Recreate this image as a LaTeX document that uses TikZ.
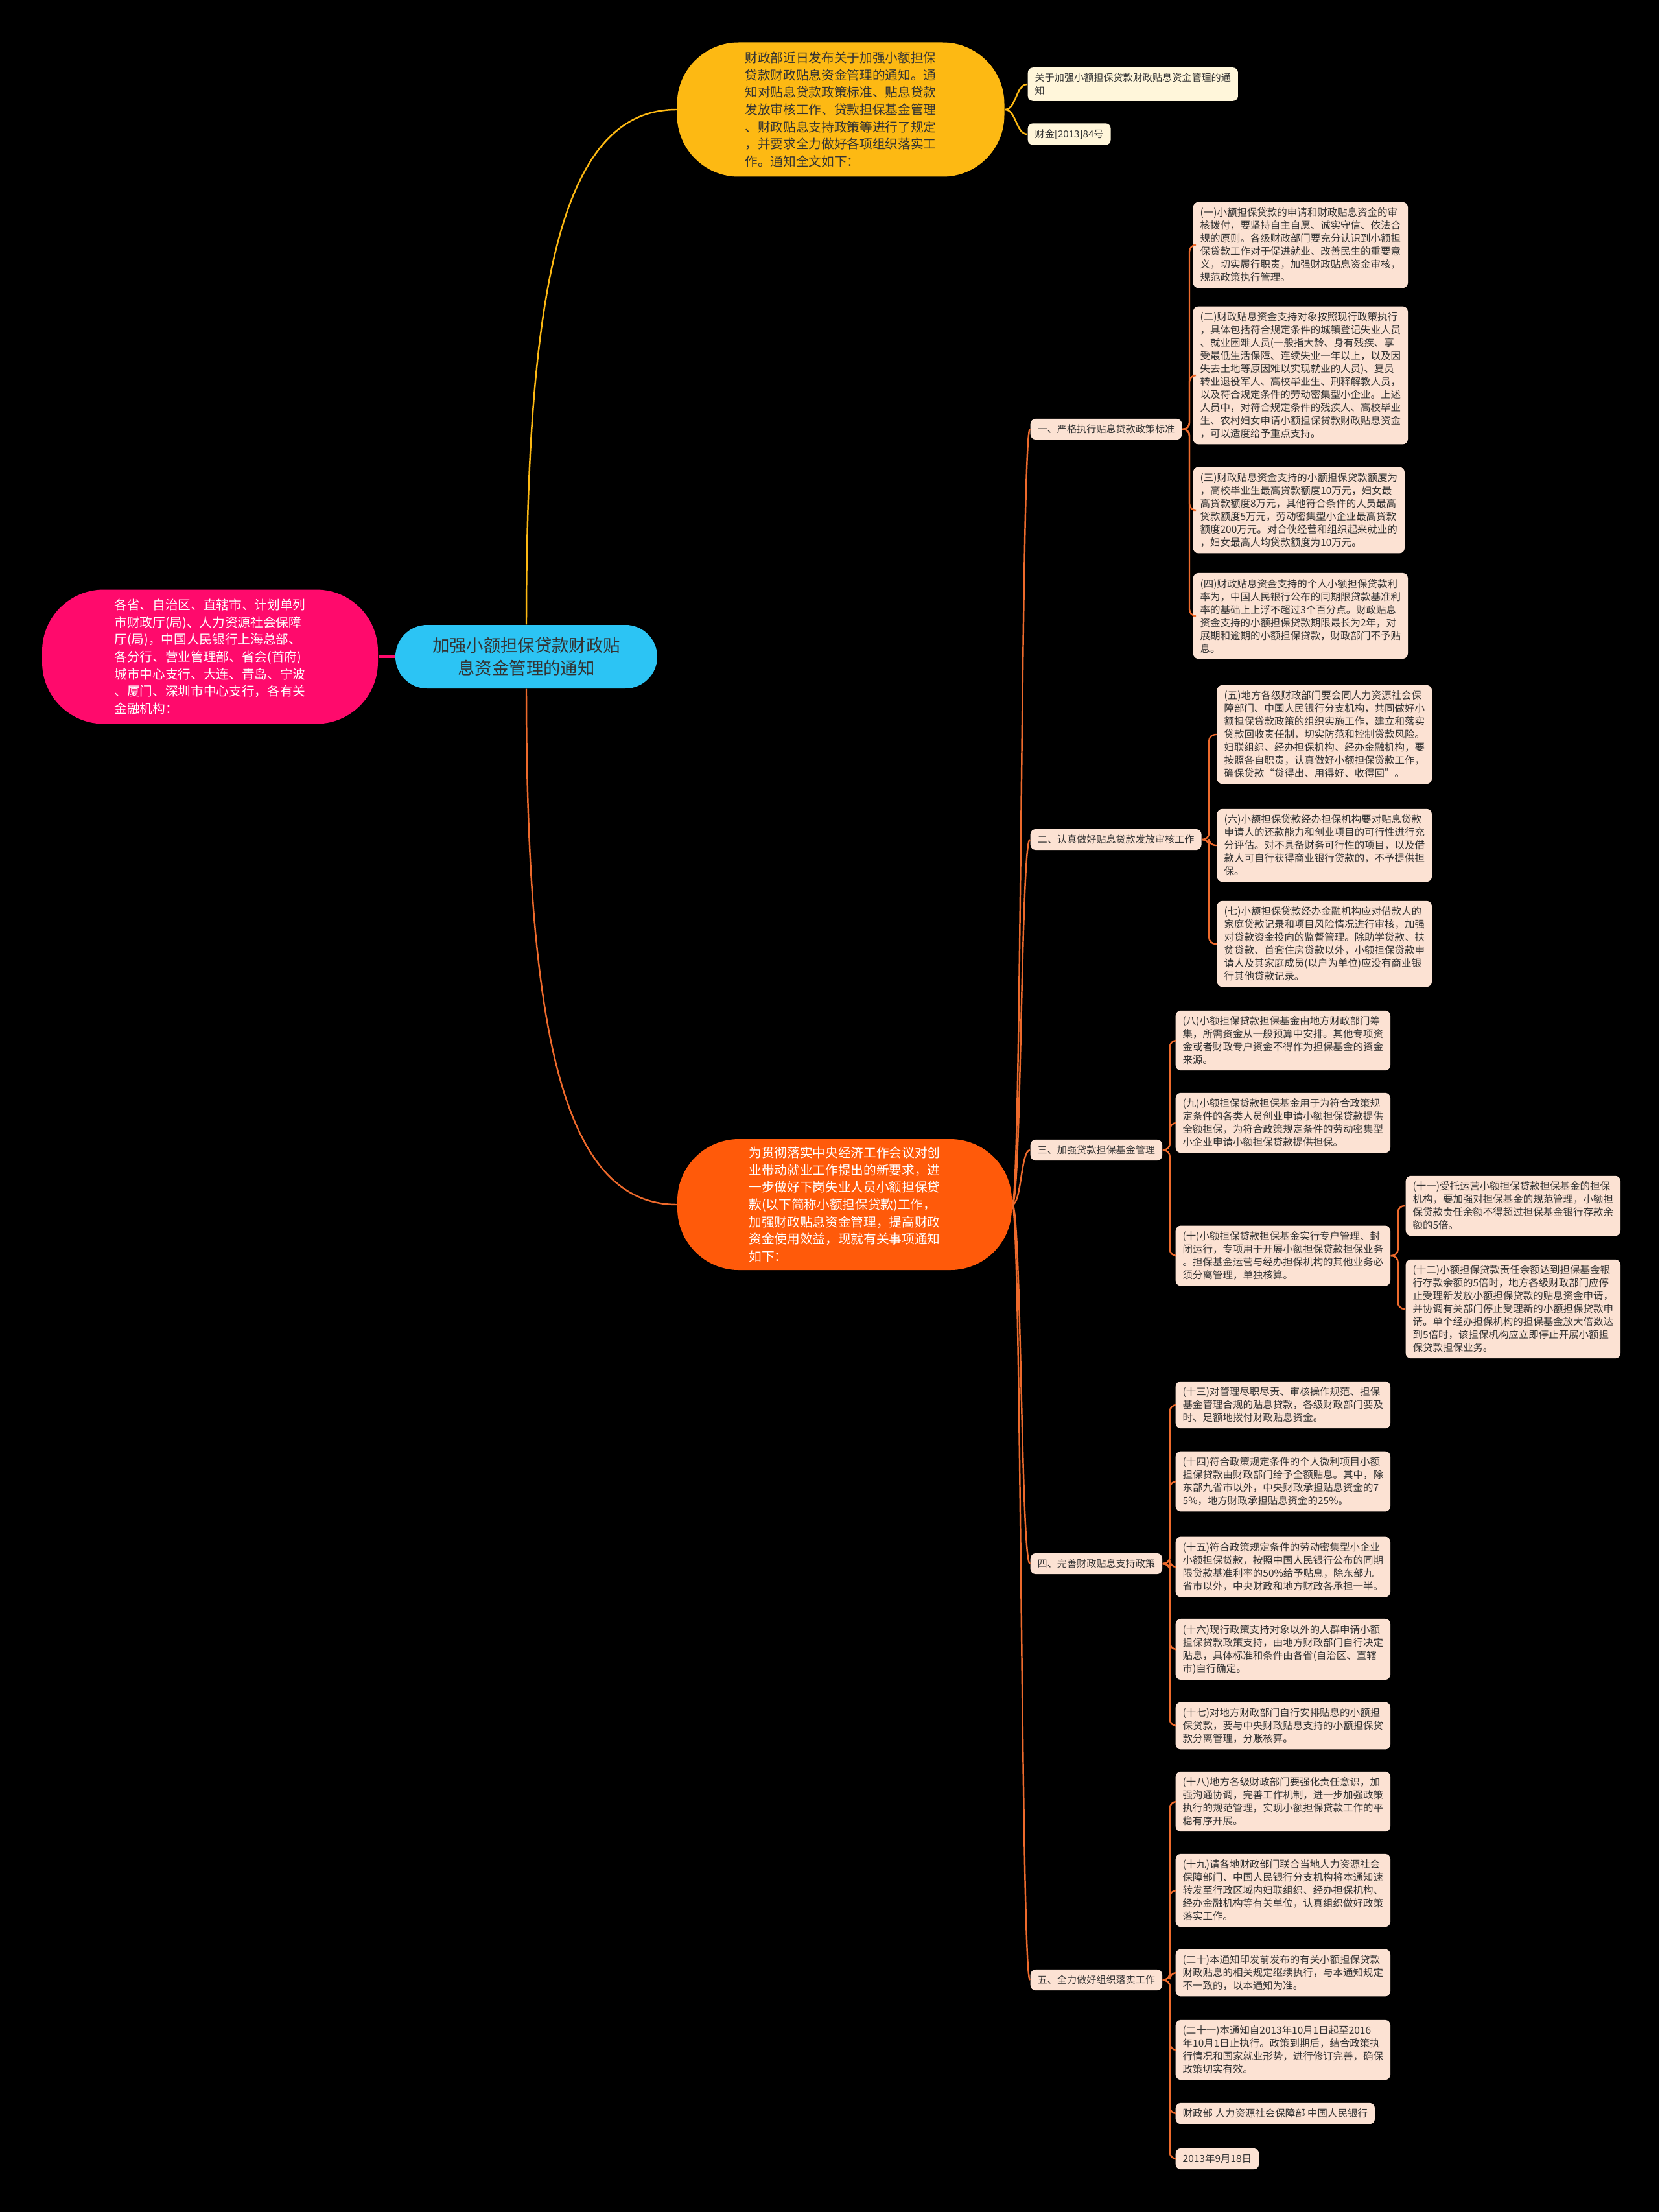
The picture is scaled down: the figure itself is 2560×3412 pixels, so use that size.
\documentclass[tikz,border=0pt]{standalone}
\usepackage{fontspec}
\setmainfont{Noto Sans CJK SC}
\usetikzlibrary{calc}
\definecolor{rosered}{HTML}{FF0A6C}
\definecolor{skyblue}{HTML}{2CC4F4}
\definecolor{goldyel}{HTML}{FDB913}
\definecolor{flameorg}{HTML}{FF5A0A}
\definecolor{peach}{HTML}{FCE2D3}
\definecolor{cream}{HTML}{FFF6DA}
\definecolor{linkorg}{HTML}{EE6A2C}
\definecolor{inkgray}{HTML}{333333}

\begin{document}
\begin{tikzpicture}[x=0.1mm,y=-0.1mm,
  big/.style={rounded corners=9.5mm, align=left, inner sep=0pt,
    font=\fontsize{5.6pt}{7.6pt}\selectfont},
  leaf/.style={fill=peach, text=inkgray, rounded corners=0.8mm, align=left, anchor=west,
    inner xsep=1.1mm, inner ysep=0.9mm, font=\fontsize{4.4pt}{5.69pt}\selectfont},
  sect/.style={leaf, font=\fontsize{4.3pt}{5.4pt}\selectfont},
  note/.style={leaf, fill=cream, font=\fontsize{4.3pt}{5.6pt}\selectfont},
  link/.style={linkorg, line width=0.7pt, rounded corners=1mm},
]
  \useasboundingbox (0,0) rectangle (2560,3412);
  \fill[black] (0,0) rectangle (2560,3412);

  % main nodes
  \node[big, fill=rosered, text=white, minimum width=51.8mm, minimum height=20.7mm] (rose) at (324,1013)
    {各省、自治区、直辖市、计划单列\\市财政厅(局)、人力资源社会保障\\厅(局)，中国人民银行上海总部、\\各分行、营业管理部、省会(首府)\\城市中心支行、大连、青岛、宁波\\、厦门、深圳市中心支行，各有关\\金融机构：};
  \node[fill=skyblue, text=inkgray, rounded corners=4.9mm, align=center, inner sep=0pt,
    minimum width=40.4mm, minimum height=9.8mm, font=\fontsize{7.5pt}{10pt}\selectfont] (ctr) at (812,1013)
    {加强小额担保贷款财政贴\\息资金管理的通知};
  \node[big, fill=goldyel, text=inkgray, minimum width=50.5mm, minimum height=20.7mm] (yel) at (1297,169)
    {财政部近日发布关于加强小额担保\\贷款财政贴息资金管理的通知。通\\知对贴息贷款政策标准、贴息贷款\\发放审核工作、贷款担保基金管理\\、财政贴息支持政策等进行了规定\\，并要求全力做好各项组织落实工\\作。通知全文如下：};
  \node[big, fill=flameorg, text=white, minimum width=51.6mm, minimum height=20.2mm] (org) at (1303,1858)
    {为贯彻落实中央经济工作会议对创\\业带动就业工作提出的新要求，进\\一步做好下岗失业人员小额担保贷\\款(以下简称小额担保贷款)工作，\\加强财政贴息资金管理，提高财政\\资金使用效益，现就有关事项通知\\如下：};

  % notes of the yellow node
  \node[note] (c1) at (1585,130) {关于加强小额担保贷款财政贴息资金管理的通\\知};
  \node[note] (c2) at (1585,207) {财金[2013]84号};

  % sections
  \node[sect] (s1) at (1589,662) {一、严格执行贴息贷款政策标准};
  \node[sect] (s2) at (1589,1295) {二、认真做好贴息贷款发放审核工作};
  \node[sect] (s3) at (1589,1774) {三、加强贷款担保基金管理};
  \node[sect] (s4) at (1589,2412) {四、完善财政贴息支持政策};
  \node[sect] (s5) at (1589,3054) {五、全力做好组织落实工作};

  % section one
  \node[leaf] (l1) at (1840,378) {(一)小额担保贷款的申请和财政贴息资金的审\\核拨付，要坚持自主自愿、诚实守信、依法合\\规的原则。各级财政部门要充分认识到小额担\\保贷款工作对于促进就业、改善民生的重要意\\义，切实履行职责，加强财政贴息资金审核，\\规范政策执行管理。};
  \node[leaf] (l2) at (1840,579) {(二)财政贴息资金支持对象按照现行政策执行\\，具体包括符合规定条件的城镇登记失业人员\\、就业困难人员(一般指大龄、身有残疾、享\\受最低生活保障、连续失业一年以上，以及因\\失去土地等原因难以实现就业的人员)、复员\\转业退役军人、高校毕业生、刑释解教人员，\\以及符合规定条件的劳动密集型小企业。上述\\人员中，对符合规定条件的残疾人、高校毕业\\生、农村妇女申请小额担保贷款财政贴息资金\\，可以适度给予重点支持。};
  \node[leaf] (l3) at (1840,787) {(三)财政贴息资金支持的小额担保贷款额度为\\，高校毕业生最高贷款额度10万元，妇女最\\高贷款额度8万元，其他符合条件的人员最高\\贷款额度5万元，劳动密集型小企业最高贷款\\额度200万元。对合伙经营和组织起来就业的\\，妇女最高人均贷款额度为10万元。};
  \node[leaf] (l4) at (1840,950) {(四)财政贴息资金支持的个人小额担保贷款利\\率为，中国人民银行公布的同期限贷款基准利\\率的基础上上浮不超过3个百分点。财政贴息\\资金支持的小额担保贷款期限最长为2年，对\\展期和逾期的小额担保贷款，财政部门不予贴\\息。};

  % section two
  \node[leaf] (l5) at (1877,1133) {(五)地方各级财政部门要会同人力资源社会保\\障部门、中国人民银行分支机构，共同做好小\\额担保贷款政策的组织实施工作，建立和落实\\贷款回收责任制，切实防范和控制贷款风险。\\妇联组织、经办担保机构、经办金融机构，要\\按照各自职责，认真做好小额担保贷款工作，\\确保贷款“贷得出、用得好、收得回”。};
  \node[leaf] (l6) at (1877,1304) {(六)小额担保贷款经办担保机构要对贴息贷款\\申请人的还款能力和创业项目的可行性进行充\\分评估。对不具备财务可行性的项目，以及借\\款人可自行获得商业银行贷款的，不予提供担\\保。};
  \node[leaf] (l7) at (1877,1456) {(七)小额担保贷款经办金融机构应对借款人的\\家庭贷款记录和项目风险情况进行审核，加强\\对贷款资金投向的监督管理。除助学贷款、扶\\贫贷款、首套住房贷款以外，小额担保贷款申\\请人及其家庭成员(以户为单位)应没有商业银\\行其他贷款记录。};

  % section three
  \node[leaf] (l8) at (1813,1605) {(八)小额担保贷款担保基金由地方财政部门筹\\集，所需资金从一般预算中安排。其他专项资\\金或者财政专户资金不得作为担保基金的资金\\来源。};
  \node[leaf] (l9) at (1813,1732) {(九)小额担保贷款担保基金用于为符合政策规\\定条件的各类人员创业申请小额担保贷款提供\\全额担保，为符合政策规定条件的劳动密集型\\小企业申请小额担保贷款提供担保。};
  \node[leaf] (l10) at (1813,1937) {(十)小额担保贷款担保基金实行专户管理、封\\闭运行，专项用于开展小额担保贷款担保业务\\。担保基金运营与经办担保机构的其他业务必\\须分离管理，单独核算。};
  \node[leaf] (l11) at (2168,1860) {(十一)受托运营小额担保贷款担保基金的担保\\机构，要加强对担保基金的规范管理，小额担\\保贷款责任余额不得超过担保基金银行存款余\\额的5倍。};
  \node[leaf] (l12) at (2168,2019) {(十二)小额担保贷款责任余额达到担保基金银\\行存款余额的5倍时，地方各级财政部门应停\\止受理新发放小额担保贷款的贴息资金申请，\\并协调有关部门停止受理新的小额担保贷款申\\请。单个经办担保机构的担保基金放大倍数达\\到5倍时，该担保机构应立即停止开展小额担\\保贷款担保业务。};

  % section four
  \node[leaf] (l13) at (1813,2167) {(十三)对管理尽职尽责、审核操作规范、担保\\基金管理合规的贴息贷款，各级财政部门要及\\时、足额地拨付财政贴息资金。};
  \node[leaf] (l14) at (1813,2285) {(十四)符合政策规定条件的个人微利项目小额\\担保贷款由财政部门给予全额贴息。其中，除\\东部九省市以外，中央财政承担贴息资金的7\\5\%，地方财政承担贴息资金的25\%。};
  \node[leaf] (l15) at (1813,2417) {(十五)符合政策规定条件的劳动密集型小企业\\小额担保贷款，按照中国人民银行公布的同期\\限贷款基准利率的50\%给予贴息，除东部九\\省市以外，中央财政和地方财政各承担一半。};
  \node[leaf] (l16) at (1813,2544) {(十六)现行政策支持对象以外的人群申请小额\\担保贷款政策支持，由地方财政部门自行决定\\贴息，具体标准和条件由各省(自治区、直辖\\市)自行确定。};
  \node[leaf] (l17) at (1813,2662) {(十七)对地方财政部门自行安排贴息的小额担\\保贷款，要与中央财政贴息支持的小额担保贷\\款分离管理，分账核算。};

  % section five
  \node[leaf] (l18) at (1813,2779) {(十八)地方各级财政部门要强化责任意识，加\\强沟通协调，完善工作机制，进一步加强政策\\执行的规范管理，实现小额担保贷款工作的平\\稳有序开展。};
  \node[leaf] (l19) at (1813,2916) {(十九)请各地财政部门联合当地人力资源社会\\保障部门、中国人民银行分支机构将本通知速\\转发至行政区域内妇联组织、经办担保机构、\\经办金融机构等有关单位，认真组织做好政策\\落实工作。};
  \node[leaf] (l20) at (1813,3043) {(二十)本通知印发前发布的有关小额担保贷款\\财政贴息的相关规定继续执行，与本通知规定\\不一致的，以本通知为准。};
  \node[leaf] (l21) at (1813,3162) {(二十一)本通知自2013年10月1日起至2016\\年10月1日止执行。政策到期后，结合政策执\\行情况和国家就业形势，进行修订完善，确保\\政策切实有效。};
  \node[leaf] (l22) at (1813,3260) {财政部 人力资源社会保障部 中国人民银行};
  \node[leaf] (l23) at (1813,3330) {2013年9月18日};

  % connectors
  \draw[rosered, line width=1.1pt] (rose.east) -- (ctr.west);
  \draw[goldyel, line width=0.7pt] (ctr.north) .. controls +(0,-530) and +(-175,0) .. (yel.west);
  \draw[linkorg, line width=0.7pt] (ctr.south) .. controls +(0,530) and +(-175,0) .. (org.west);
  \foreach \c in {c1,c2}
    \draw[goldyel, line width=0.7pt] (yel.east) .. controls +(18,0) and +(-18,0) .. (\c.west);
  \foreach \s in {s1,s2,s3,s4,s5}
    \draw[linkorg, line width=0.7pt] (org.east) .. controls +(14,0) and +(-14,0) .. (\s.west);
  \foreach \p/\l in {s1/l1,s1/l2,s1/l3,s1/l4, s2/l5,s2/l6,s2/l7, s3/l8,s3/l9,s3/l10, l10/l11,l10/l12,
      s4/l13,s4/l14,s4/l15,s4/l16,s4/l17, s5/l18,s5/l19,s5/l20,s5/l21,s5/l22,s5/l23}
    \draw[link] (\p.east) -- ++(11,0) |- (\l.west);
\end{tikzpicture}
\end{document}
